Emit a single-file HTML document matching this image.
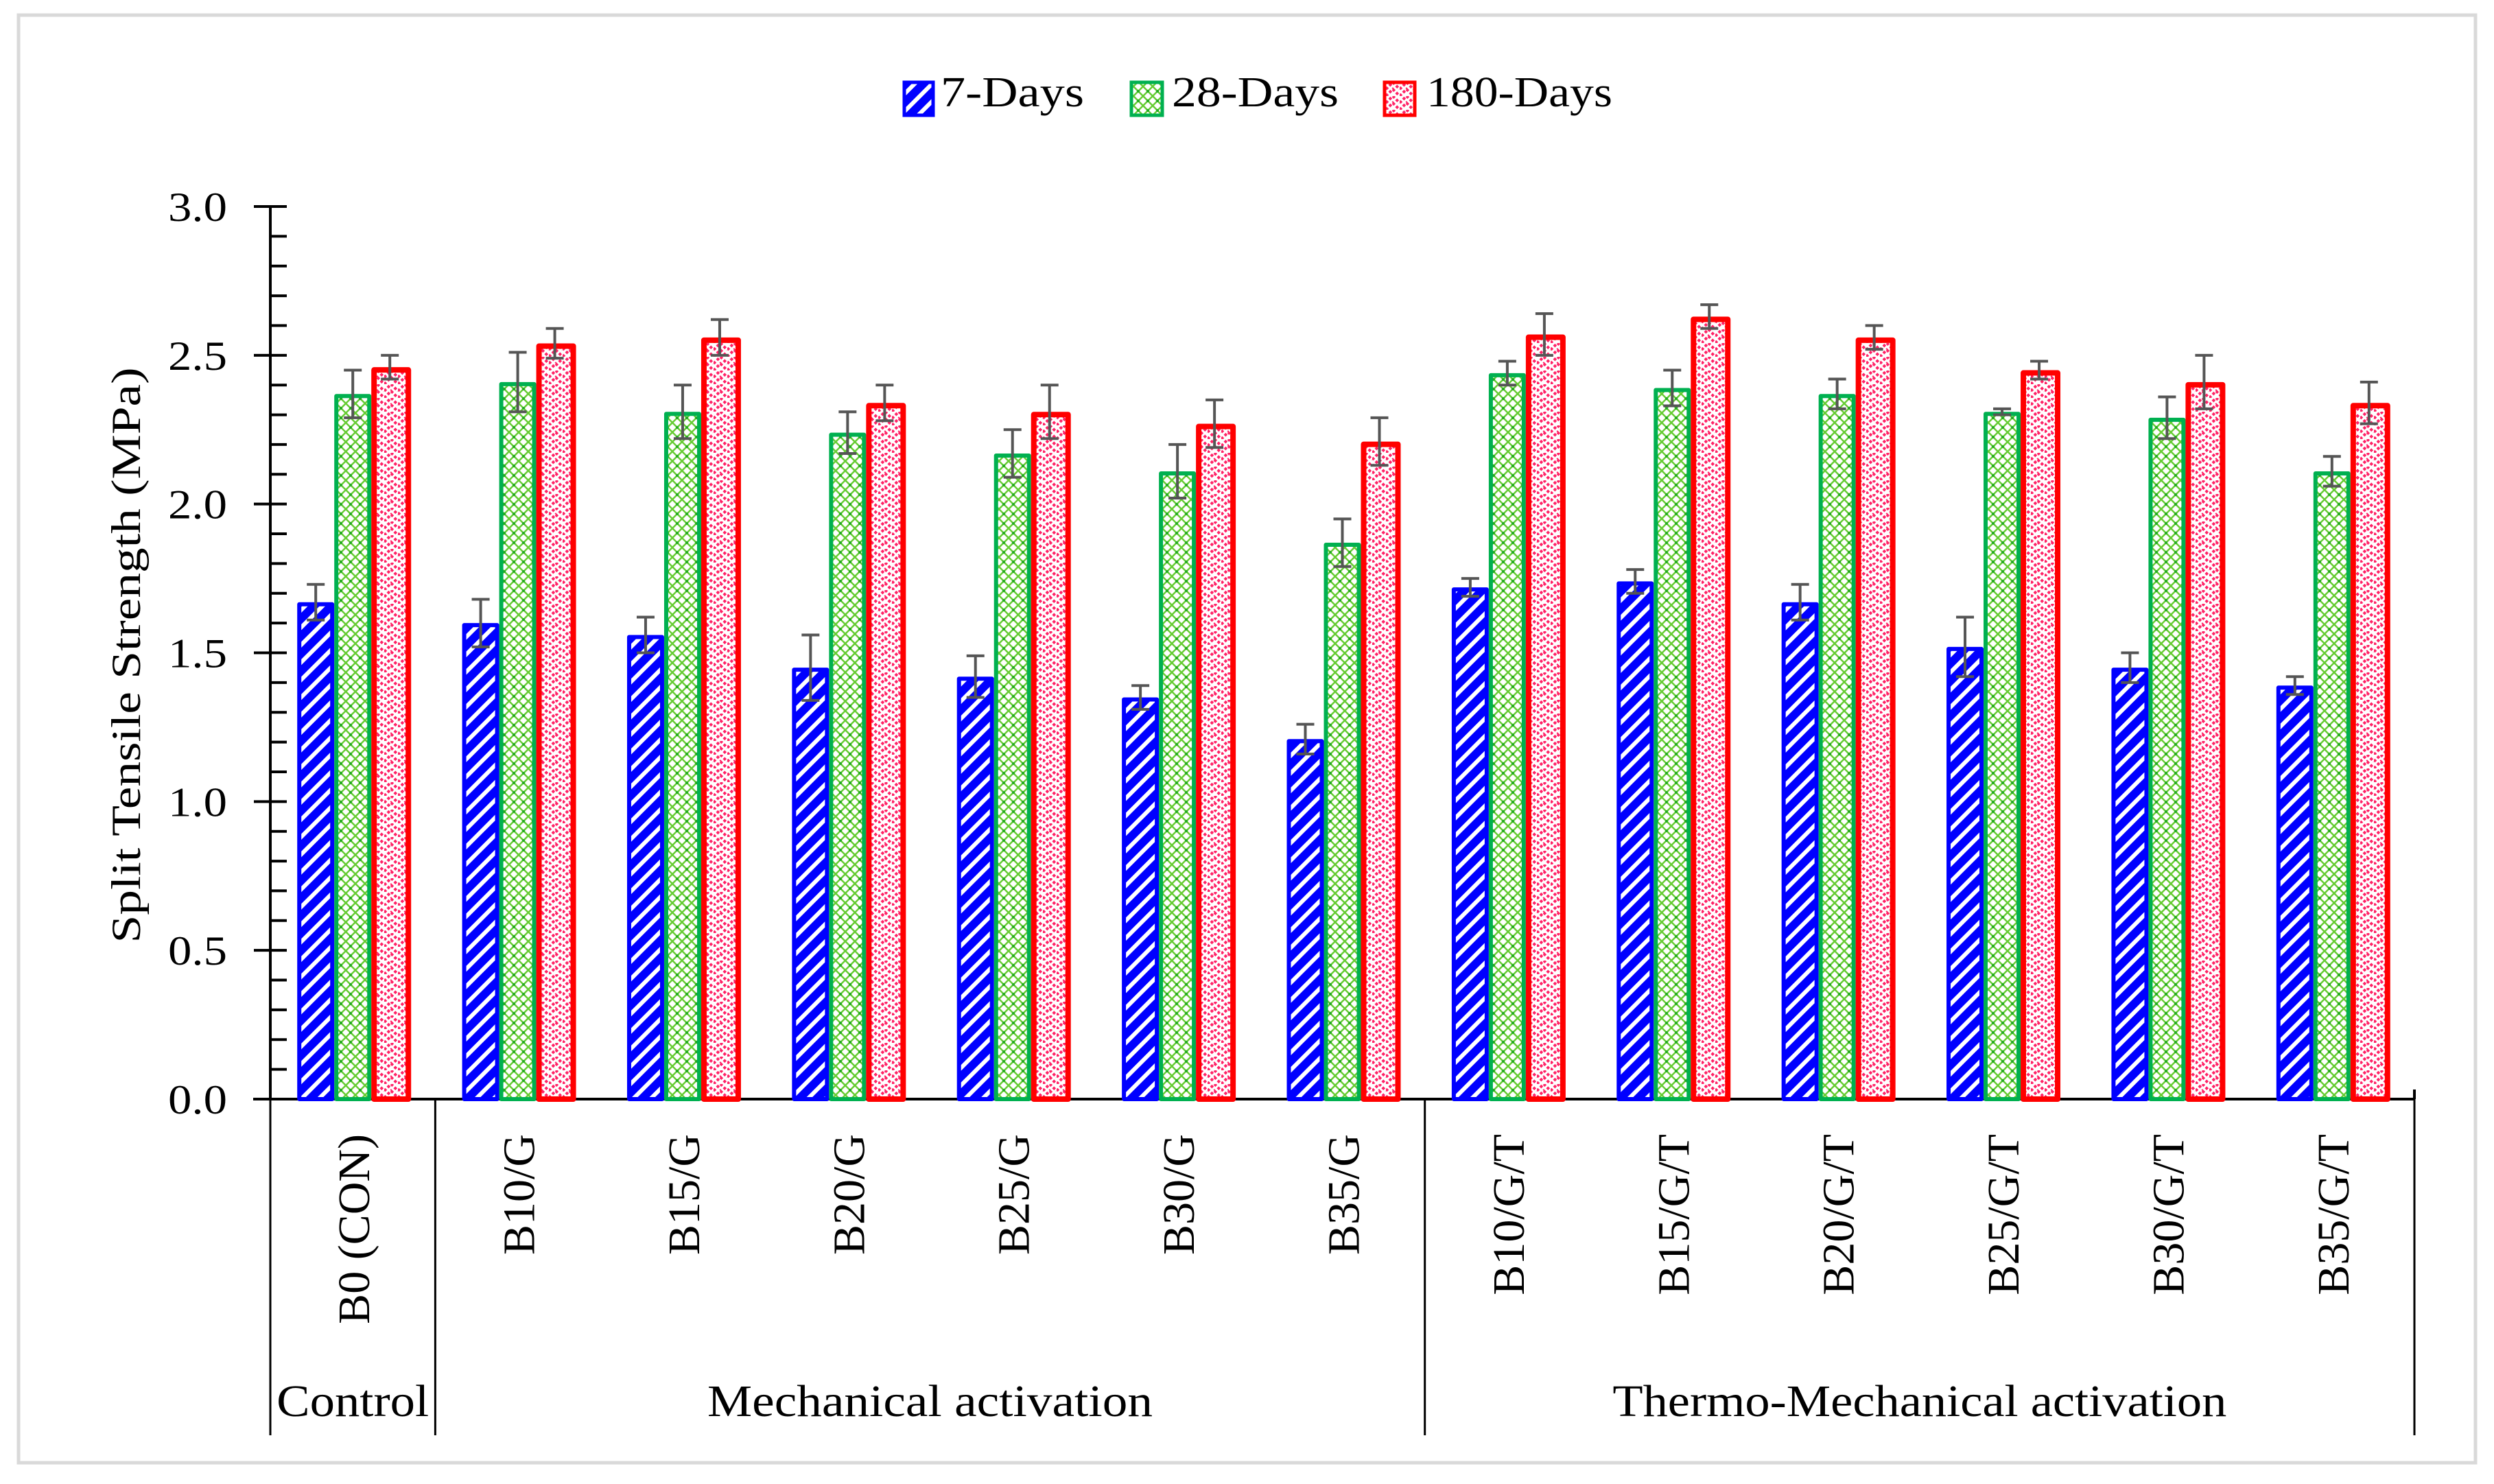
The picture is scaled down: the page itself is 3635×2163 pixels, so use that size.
<!DOCTYPE html>
<html><head><meta charset="utf-8"><style>
html,body{margin:0;padding:0;background:#fff;}
svg{display:block;}
text{font-family:"Liberation Serif",serif;fill:#000;}
</style></head><body>
<svg id="chart" width="3635" height="2163" viewBox="0 0 3635 2163" xmlns="http://www.w3.org/2000/svg">
<defs>
<pattern id="pBlue" patternUnits="userSpaceOnUse" width="18" height="18" patternTransform="rotate(45)">
<rect width="18" height="18" fill="#0000ff"/><rect x="0" y="0" width="6" height="18" fill="#fff"/>
</pattern>
<pattern id="pGreen" patternUnits="userSpaceOnUse" width="14" height="14">
<rect width="14" height="14" fill="#fff"/>
<path d="M0 0L14 14M14 0L0 14" stroke="#66cc33" stroke-width="2.5"/>
<circle cx="7" cy="7" r="2" fill="#22aa22"/>
</pattern>
<pattern id="pRed" patternUnits="userSpaceOnUse" width="20" height="20">
<rect width="20" height="20" fill="#fff"/>
<path d="M0 10L10 0L20 10M0 20L10 10L20 20" stroke="#ff2266" stroke-width="4" fill="none" stroke-dasharray="4 3"/>
</pattern>
</defs>
<rect x="27" y="22" width="3581" height="2110" fill="none" stroke="#d9d9d9" stroke-width="5"/>
<g id="legend">
<g>
<rect x="1318" y="120" width="42" height="48" fill="url(#pBlue)" stroke="#0000ff" stroke-width="5"/>
<text x="1371" y="155" font-size="62" textLength="209" lengthAdjust="spacingAndGlyphs">7-Days</text></g>
<g>
<rect x="1649" y="120" width="45" height="48" fill="url(#pGreen)" stroke="#00b050" stroke-width="5"/>
<text x="1708" y="155" font-size="62" textLength="243" lengthAdjust="spacingAndGlyphs">28-Days</text></g>
<g>
<rect x="2018" y="120" width="44" height="48" fill="url(#pRed)" stroke="#ff0000" stroke-width="5"/>
<text x="2079" y="155" font-size="62" textLength="271" lengthAdjust="spacingAndGlyphs">180-Days</text></g>
</g>
<g id="axes"></g>
<g id="bars"></g>
<g id="errs"></g>
<g id="xlabels"></g>
</svg>
<script>
const categories=["B0 (CON)","B10/G","B15/G","B20/G","B25/G","B30/G","B35/G","B10/G/T","B15/G/T","B20/G/T","B25/G/T","B30/G/T","B35/G/T"];
const days7=[1.67,1.60,1.56,1.45,1.42,1.35,1.21,1.72,1.74,1.67,1.52,1.45,1.39];
const days28=[2.37,2.41,2.31,2.24,2.17,2.11,1.87,2.44,2.39,2.37,2.31,2.29,2.11];
const days180=[2.46,2.54,2.56,2.34,2.31,2.27,2.21,2.57,2.63,2.56,2.45,2.41,2.34];
const err7=[0.06,0.08,0.06,0.11,0.07,0.04,0.05,0.03,0.04,0.06,0.10,0.05,0.03];
const err28=[0.08,0.10,0.09,0.07,0.08,0.09,0.08,0.04,0.06,0.05,0.01,0.07,0.05];
const err180=[0.04,0.05,0.06,0.06,0.09,0.08,0.08,0.07,0.04,0.04,0.03,0.09,0.07];
const yTicks=["0.0","0.5","1.0","1.5","2.0","2.5","3.0"];
const groupNames=["Control","Mechanical activation","Thermo-Mechanical activation"];
const groupSpans=[[0,1],[1,7],[7,13]];
const seriesNames=["7-days","28-days","180-days"];

const NS="http://www.w3.org/2000/svg";
const X0=394,X1=3519,Y0=1602,Ytop=301,YMAX=3.0;
const band=(X1-X0)/categories.length;
const yS=v=>Y0-(v/YMAX)*(Y0-Ytop);
const xC=i=>X0+(i+0.5)*band;
const xB=i=>X0+i*band;
const groupLen=[222,649,895];
function el(tag,attrs,parent,txt){const e=document.createElementNS(NS,tag);for(const k in attrs)e.setAttribute(k,attrs[k]);if(txt!==undefined)e.textContent=txt;parent.appendChild(e);return e;}
const axes=document.getElementById('axes'),bars=document.getElementById('bars'),errs=document.getElementById('errs'),xl=document.getElementById('xlabels');

let ya=el('line',{x1:X0,y1:Ytop,x2:X0,y2:Y0,stroke:'#000','stroke-width':4},axes);


for(let k=0;k<=30;k++){const v=k/10,y=yS(v);const major=k%5===0;
 const t=el('line',{x1:major?370:X0,y1:y,x2:418,y2:y,stroke:'#000','stroke-width':4},axes);
 
 }
yTicks.forEach(s=>{const v=parseFloat(s);
 const t=el('text',{x:331,y:yS(v)+21,'font-size':60,'text-anchor':'end',textLength:86,lengthAdjust:'spacingAndGlyphs'},axes,s);
 
 });
const yt=el('text',{x:0,y:0,'font-size':60,'text-anchor':'middle',transform:'translate(204,955) rotate(-90)',textLength:839,lengthAdjust:'spacingAndGlyphs'},axes,'Split Tensile Strength (MPa)');



const series=[days7,days28,days180],errors=[err7,err28,err180];
const fills=['url(#pBlue)','url(#pGreen)','url(#pRed)'],strokes=['#0000ff','#00b050','#ff0000'];
const sw=[6,6,8];const bw=54,offs=[-81,-27,27];
categories.forEach((c,i)=>{
 series.forEach((s,j)=>{const x=xC(i)+offs[j],y=yS(s[i]);
  const r=el('rect',{x:x+sw[j]/2,y:y+sw[j]/2,width:bw-sw[j]+(j===2?4:0),height:Y0-y-sw[j]/2,fill:fills[j],stroke:strokes[j],'stroke-width':sw[j],'stroke-linejoin':'round'},bars);
  
  
  const cx=x+bw/2,e=errors[j][i],yh=yS(s[i]+e),yl=yS(s[i]-e);
  const g=el('path',{d:`M${cx} ${yh}V${yl}M${cx-13} ${yh}H${cx+13}M${cx-13} ${yl}H${cx+13}`,stroke:'#555','stroke-width':4,fill:'none'},errs);
  
  
 });
 const lb=el('text',{x:0,y:0,'font-size':66,'text-anchor':'end',transform:`translate(${xC(i)+24},1653) rotate(-90)`},xl,c);
 
 
});
const xa=el('line',{x1:X0-25,y1:Y0,x2:X1,y2:Y0,stroke:'#000','stroke-width':4},axes);


const xe=el('line',{x1:X1,y1:Y0-14,x2:X1,y2:Y0,stroke:'#000','stroke-width':4},axes);


groupSpans.forEach((sp,k)=>{
 const d=el('line',{x1:xB(sp[0]),y1:Y0,x2:xB(sp[0]),y2:2092,stroke:'#000','stroke-width':3},axes);
 
 
 const gt=el('text',{x:(xB(sp[0])+xB(sp[1]))/2,y:2064,'font-size':66,'text-anchor':'middle',textLength:groupLen[k],lengthAdjust:'spacingAndGlyphs'},xl,groupNames[k]);
 
 
});
const dl=el('line',{x1:X1,y1:Y0,x2:X1,y2:2092,stroke:'#000','stroke-width':3},axes);


</script>
</body></html>
